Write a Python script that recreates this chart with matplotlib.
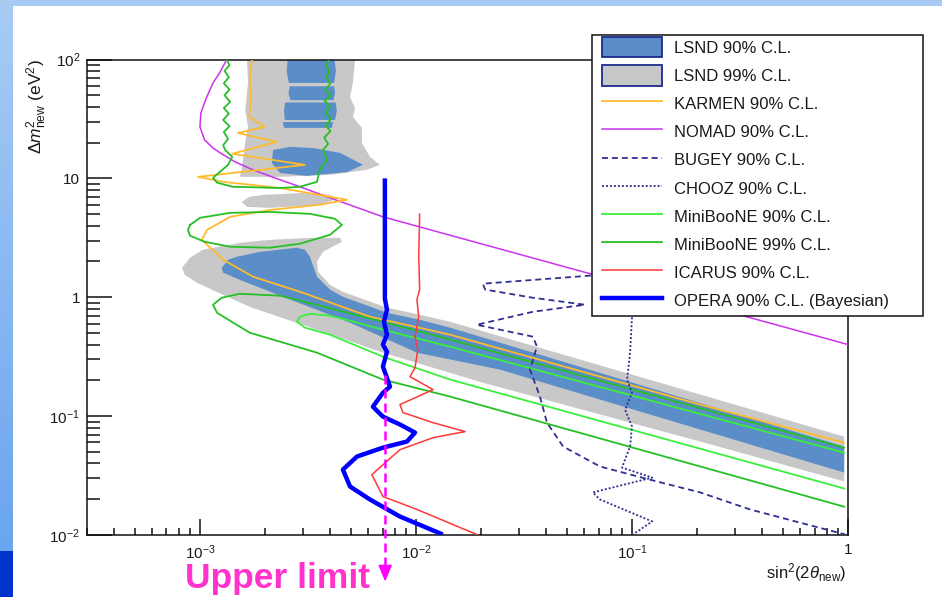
import numpy as np
import matplotlib
matplotlib.use("Agg")
import matplotlib.pyplot as plt
from matplotlib.patches import Patch, Rectangle
from matplotlib.lines import Line2D
from matplotlib.colors import LinearSegmentedColormap
from matplotlib.ticker import FixedLocator, NullFormatter

plt.rcParams["font.family"] = ["Liberation Sans", "DejaVu Sans"]
plt.rcParams["mathtext.fontset"] = "custom"
plt.rcParams["mathtext.rm"] = "Liberation Sans"
plt.rcParams["mathtext.it"] = "Liberation Sans:italic"
plt.rcParams["mathtext.bf"] = "Liberation Sans:bold"

# ---------------- exclusion / allowed regions (sin^2(2theta), dm^2 [eV^2]) ----------------
# LSND 99% C.L. allowed regions
lsnd99_top_x = [1.65e-3, 1.67e-3, 1.62e-3, 1.67e-3, 1.62e-3, 1.56e-3, 1.53e-3, 2.35e-3, 4.0e-3,
                5.93e-3, 6.81e-3, 6.12e-3, 5.62e-3, 5.62e-3, 5.11e-3, 5.22e-3, 4.95e-3, 5.11e-3, 5.22e-3]
lsnd99_top_y = [100, 63.5, 37.7, 27.1, 19.9, 11.8, 10.3, 10.3, 10.7,
                11.8, 13.0, 15.2, 19.9, 26.6, 32.9, 39.1, 48.4, 63.5, 100]
lsnd99_mid_x = [1.56e-3, 1.70e-3, 1.96e-3, 3.0e-3, 4.0e-3, 4.35e-3, 3.59e-3, 2.11e-3, 1.65e-3]
lsnd99_mid_y = [6.35, 7.0, 7.26, 7.55, 7.26, 6.73, 6.0, 5.65, 5.76]
lsnd99_band_x = [8.26e-4, 9.0e-4, 1.03e-3, 1.53e-3, 2.11e-3, 3.23e-3, 4.45e-3, 4.54e-3, 3.71e-3,
                 3.48e-3, 3.52e-3, 4.0e-3, 4.59e-3, 7.34e-3, 1.04e-2, 1.44e-2, 0.207, 0.96,
                 0.96, 0.207, 2.04e-2, 7.03e-3, 3.48e-3, 1.70e-3, 9.7e-4, 8.5e-4]
lsnd99_band_y = [1.77, 2.15, 2.51, 2.87, 3.04, 3.16, 3.16, 2.93, 2.41,
                 1.99, 1.64, 1.27, 1.11, 0.817, 0.713, 0.622, 0.152, 0.0673,
                 0.0282, 0.0611, 0.191, 0.342, 0.533, 0.83, 1.32, 1.55]

# LSND 90% C.L. allowed regions
lsnd90_top_a_x = [2.55e-3, 4.20e-3, 4.26e-3, 4.18e-3, 2.58e-3, 2.52e-3]
lsnd90_top_a_y = [100, 100, 80, 63.5, 63.5, 80]
lsnd90_top_b_x = [2.60e-3, 4.18e-3, 4.22e-3, 4.15e-3, 2.62e-3, 2.57e-3]
lsnd90_top_b_y = [59.5, 59.5, 52, 45.5, 45.5, 52]
lsnd90_top_c_x = [2.48e-3, 4.25e-3, 4.30e-3, 4.22e-3, 2.47e-3, 2.45e-3]
lsnd90_top_c_y = [43.5, 43.5, 37, 31.0, 31.0, 37]
lsnd90_top_d_x = [2.42e-3, 4.13e-3, 4.08e-3, 2.45e-3]
lsnd90_top_d_y = [29.8, 29.8, 26.6, 26.6]
lsnd90_mid_x = [2.18e-3, 2.61e-3, 3.33e-3, 4.45e-3, 5.69e-3, 4.80e-3, 3.13e-3, 2.35e-3, 2.15e-3]
lsnd90_mid_y = [17.3, 18.4, 18.0, 16.4, 13.0, 11.3, 10.5, 11.1, 13.5]
lsnd90_band_x = [1.26e-3, 1.35e-3, 1.48e-3, 1.90e-3, 2.81e-3, 3.06e-3, 3.23e-3, 3.48e-3, 4.0e-3,
                 4.59e-3, 7.34e-3, 1.04e-2, 1.44e-2, 0.96, 0.96, 2.45e-2, 1.01e-2, 4.95e-3,
                 2.42e-3, 1.53e-3, 1.28e-3]
lsnd90_band_y = [1.77, 2.07, 2.19, 2.41, 2.61, 2.51, 2.19, 1.49, 1.16,
                 1.01, 0.74, 0.647, 0.555, 0.0555, 0.0335, 0.246, 0.342, 0.611,
                 1.01, 1.40, 1.61]

# KARMEN 90% C.L.
karmen_x = [1.74e-3, 1.70e-3, 1.72e-3, 1.69e-3, 2.0e-3, 1.50e-3, 2.27e-3, 1.41e-3, 3.06e-3,
            9.8e-4, 1.28e-3, 2.35e-3, 4.80e-3, 3.59e-3, 2.11e-3, 1.38e-3, 1.08e-3, 1.02e-3,
            1.28e-3, 1.76e-3, 3.0e-3, 6.12e-3, 1.44e-2, 0.207, 0.96]
karmen_y = [100, 67.3, 45.7, 32.9, 27.1, 24.1, 20.3, 16.1, 13.0,
            10.3, 9.35, 8.3, 6.6, 6.0, 5.43, 4.75, 3.69, 3.04,
            2.07, 1.49, 1.09, 0.686, 0.484, 0.125, 0.0598]

# NOMAD 90% C.L.
nomad_x = [1.33e-3, 1.24e-3, 1.15e-3, 1.07e-3, 1.01e-3, 1.0e-3, 1.05e-3, 1.15e-3,
           1.24e-3, 1.45e-3, 1.76e-3, 2.22e-3, 2.75e-3, 4.0e-3, 7.03e-3, 1.0]
nomad_y = [100, 78.5, 63.5, 47.4, 35.5, 27.1, 21.1, 18.0,
           16.4, 13.8, 11.8, 10.1, 8.8, 6.86, 4.75, 0.40]

# BUGEY 90% C.L.
bugey_x = [0.109, 6.39e-2, 2.04e-2, 2.09e-2, 3.48e-2, 6.06e-2, 3.48e-2, 1.91e-2, 3.48e-2, 3.63e-2,
           3.37e-2, 3.75e-2, 4.04e-2, 4.80e-2, 7.11e-2, 0.121, 0.207, 0.352, 0.600, 0.97]
bugey_y = [1.70, 1.52, 1.30, 1.16, 0.99, 0.865, 0.755, 0.587, 0.466, 0.384,
           0.246, 0.146, 0.0881, 0.0555, 0.0377, 0.0292, 0.0228, 0.0164, 0.0127, 0.0101]

# CHOOZ 90% C.L.
chooz_x = [0.1, 0.1, 9.8e-2, 9.49e-2, 0.1, 9.29e-2, 0.1, 9.8e-2, 8.99e-2, 0.124,
           6.59e-2, 7.11e-2, 0.124, 0.101]
chooz_y = [2.51, 0.673, 0.342, 0.203, 0.157, 0.113, 0.0817, 0.0555, 0.0369, 0.0304,
           0.0228, 0.0199, 0.013, 0.0101]

# MiniBooNE 90% C.L.
mb90_x = [0.96, 1.44e-2, 7.03e-3, 4.95e-3, 4.0e-3, 3.23e-3, 2.90e-3, 2.81e-3,
          3.06e-3, 4.0e-3, 7.03e-3, 1.44e-2, 0.96]
mb90_y = [0.0493, 0.384, 0.533, 0.635, 0.70, 0.726, 0.686, 0.622,
          0.555, 0.484, 0.316, 0.203, 0.0246]

# MiniBooNE 99% C.L. (three pieces)
mb99_top_x = [1.33e-3, 1.37e-3, 1.30e-3, 1.36e-3, 1.29e-3, 1.37e-3, 1.30e-3, 1.38e-3,
              1.29e-3, 1.36e-3, 1.28e-3, 1.37e-3, 1.29e-3, 1.35e-3, 1.28e-3, 1.31e-3,
              1.41e-3, 1.35e-3, 1.15e-3, 1.20e-3, 1.42e-3, 2.35e-3, 2.90e-3, 3.48e-3,
              3.59e-3, 3.87e-3,
              3.71e-3, 3.92e-3, 3.76e-3, 4.02e-3, 3.80e-3, 4.05e-3, 3.82e-3, 4.00e-3,
              3.78e-3, 4.03e-3, 3.80e-3, 4.02e-3, 3.83e-3, 3.98e-3, 3.85e-3, 3.95e-3]
mb99_top_y = [100, 90, 80, 71, 63, 56, 50, 44,
              39, 35, 31, 27.5, 24.5, 21.5, 19, 17.3,
              15.2, 13.0, 10.1, 9.2, 8.5, 8.3, 8.5, 9.35,
              11.8, 14.3,
              17.3, 19.5, 22, 25, 28, 31.5, 35.5, 40,
              45, 50, 56, 63, 71, 80, 90, 100]
mb99_mid_x = [9.0e-4, 1.0e-3, 1.38e-3, 2.11e-3, 3.23e-3, 4.22e-3, 4.54e-3, 4.0e-3,
              2.90e-3, 2.11e-3, 1.38e-3, 1.05e-3, 9.0e-4, 8.8e-4, 9.0e-4]
mb99_mid_y = [4.06, 4.66, 5.13, 5.22, 5.03, 4.57, 4.06, 3.35,
              2.82, 2.61, 2.66, 2.93, 3.29, 3.69, 4.06]
mb99_low_x = [0.96, 1.44e-2, 7.03e-3, 3.59e-3, 2.35e-3, 1.53e-3, 1.26e-3, 1.15e-3,
              1.20e-3, 1.70e-3, 3.48e-3, 7.03e-3, 1.44e-2, 0.96]
mb99_low_y = [0.0543, 0.44, 0.622, 0.849, 1.03, 1.07, 0.99, 0.865,
              0.74, 0.503, 0.342, 0.203, 0.146, 0.0173]

# ICARUS 90% C.L.
icarus_x = [1.04e-2, 1.03e-2, 1.04e-2, 1.01e-2, 1.03e-2, 9.9e-3, 1.02e-2, 9.9e-3, 9.38e-3, 1.20e-2,
            8.43e-3, 8.71e-3, 1.20e-2, 1.69e-2, 1.20e-2, 8.43e-3, 6.25e-3, 7.03e-3, 1.01e-2, 1.91e-2]
icarus_y = [5.0, 2.2, 1.16, 0.953, 0.686, 0.466, 0.362, 0.256, 0.215, 0.167,
            0.125, 0.107, 0.0881, 0.0741, 0.0659, 0.0522, 0.0322, 0.0211, 0.0164, 0.0101]

# OPERA 90% C.L. (Bayesian)
opera_x = [7.18e-3, 7.18e-3, 7.34e-3, 7.11e-3, 7.34e-3, 7.03e-3, 7.34e-3, 7.03e-3, 7.34e-3,
           7.58e-3, 7.03e-3, 6.32e-3, 7.03e-3, 8.43e-3, 9.9e-3, 9.08e-3, 7.03e-3, 5.33e-3,
           4.59e-3, 4.95e-3, 6.12e-3, 8.43e-3, 1.33e-2]
opera_y = [10, 0.97, 0.785, 0.622, 0.484, 0.40, 0.348, 0.261, 0.210,
           0.177, 0.157, 0.120, 0.099, 0.085, 0.0727, 0.0611, 0.0543, 0.0457,
           0.0355, 0.0256, 0.0199, 0.0143, 0.0101]

# OPERA upper limit on sin^2(2theta) at large dm^2
upper_limit = 7.2e-3
upper_limit_span = [0.223, 0.00565, 0.00406]   # dashed line top, dashed line bottom, arrow tip

# axis ticks
x_major = [1e-3, 1e-2, 1e-1, 1.0]
x_labels = ["$10^{-3}$", "$10^{-2}$", "$10^{-1}$", "1"]
y_major = [1e-2, 1e-1, 1.0, 10.0, 100.0]
y_labels = ["$10^{-2}$", "$10^{-1}$", "1", "10", "$10^{2}$"]

legend_labels = ["LSND 90% C.L.", "LSND 99% C.L.", "KARMEN 90% C.L.", "NOMAD 90% C.L.",
                 "BUGEY 90% C.L.", "CHOOZ 90% C.L.", "MiniBooNE 90% C.L.",
                 "MiniBooNE 99% C.L.", "ICARUS 90% C.L.", "OPERA 90% C.L. (Bayesian)"]

# ---------------- styles ----------------
C_LSND90 = "#5b8ec8"
C_LSND99 = "#c8c8c8"
C_KARMEN = "#ffbb2e"
C_NOMAD = "#cc33ee"
C_NAVY = "#303090"
C_MB90 = "#3cee3c"
C_MB99 = "#26c026"
C_ICARUS = "#ff3838"
C_OPERA = "#0000ff"
C_ARROW = "#ff00ff"
C_TEXT = "#1a1a1a"

W, H = 942, 597
fig = plt.figure(figsize=(W / 100, H / 100), dpi=100, facecolor="white")

# slide background strips
bax = fig.add_axes([0, 46 / H, 13 / W, 1 - 46 / H])
bax.imshow(np.linspace(0, 1, 256).reshape(-1, 1), aspect="auto",
           cmap=LinearSegmentedColormap.from_list("slide", ["#a8ccf4", "#6aa5f0"]))
bax.set_axis_off()
fig.add_artist(Rectangle((0, 0), 13 / W, 46 / H, transform=fig.transFigure,
                         facecolor="#0033cc", edgecolor="none", zorder=1))
fig.add_artist(Rectangle((0, 1 - 6 / H), 1, 6 / H, transform=fig.transFigure,
                         facecolor="#a6caf2", edgecolor="none", zorder=1))

ax = fig.add_axes([87 / W, 1 - 535 / H, (848 - 87) / W, (535 - 59.5) / H])
ax.set_xscale("log")
ax.set_yscale("log")
ax.set_xlim(3e-4, 1.0)
ax.set_ylim(1e-2, 1e2)

# LSND regions
for xs, ys in [(lsnd99_top_x, lsnd99_top_y), (lsnd99_mid_x, lsnd99_mid_y),
               (lsnd99_band_x, lsnd99_band_y)]:
    ax.fill(xs, ys, color=C_LSND99, lw=0, zorder=1)
for xs, ys in [(lsnd90_top_a_x, lsnd90_top_a_y), (lsnd90_top_b_x, lsnd90_top_b_y),
               (lsnd90_top_c_x, lsnd90_top_c_y), (lsnd90_top_d_x, lsnd90_top_d_y),
               (lsnd90_mid_x, lsnd90_mid_y), (lsnd90_band_x, lsnd90_band_y)]:
    ax.fill(xs, ys, color=C_LSND90, lw=0, zorder=2)

lw = 1.3
ax.plot(nomad_x, nomad_y, color=C_NOMAD, lw=1.1, zorder=3)
ax.plot(karmen_x, karmen_y, color=C_KARMEN, lw=lw, zorder=3)
ax.plot(mb99_top_x, mb99_top_y, color=C_MB99, lw=lw, zorder=3)
ax.plot(mb99_mid_x, mb99_mid_y, color=C_MB99, lw=lw, zorder=3)
ax.plot(mb99_low_x, mb99_low_y, color=C_MB99, lw=lw, zorder=3)
ax.plot(mb90_x, mb90_y, color=C_MB90, lw=lw, zorder=3)
ax.plot(bugey_x, bugey_y, color=C_NAVY, lw=1.3, ls=(0, (3.3, 2.2)), zorder=3)
ax.plot(chooz_x, chooz_y, color=C_NAVY, lw=1.3, ls=(0, (1.1, 1.1)), zorder=3)
ax.plot(icarus_x, icarus_y, color=C_ICARUS, lw=1.1, zorder=4)
ax.plot(opera_x, opera_y, color=C_OPERA, lw=3.2, zorder=5, solid_capstyle="butt")

# upper limit marker
ax.plot([upper_limit, upper_limit], upper_limit_span[:2], color=C_ARROW, lw=1.8,
        ls=(0, (3.6, 2.0)), clip_on=False, zorder=6)
ax.annotate("", xy=(upper_limit, upper_limit_span[2]), xytext=(upper_limit, upper_limit_span[1]),
            arrowprops=dict(arrowstyle="-|>,head_length=1.0,head_width=0.42", color=C_ARROW,
                            lw=1.2, shrinkA=0, shrinkB=0),
            annotation_clip=False, zorder=6)
fig.text(185 / W, 1 - 588 / H, "Upper limit", fontsize=25.5, fontweight="bold",
         color="#ff33cc", ha="left", va="baseline")

# axes styling
for s in ax.spines.values():
    s.set_linewidth(1.1)
    s.set_color("#111111")
ax.xaxis.set_major_locator(FixedLocator(x_major))
ax.set_xticklabels(x_labels)
ax.yaxis.set_major_locator(FixedLocator(y_major))
ax.set_yticklabels(y_labels)
x_minor = [m * 10.0 ** e for e in range(-4, 0) for m in range(2, 10) if 3e-4 <= m * 10.0 ** e < 1]
y_minor = [m * 10.0 ** e for e in range(-2, 2) for m in range(2, 10)]
ax.xaxis.set_minor_locator(FixedLocator(x_minor))
ax.yaxis.set_minor_locator(FixedLocator(y_minor))
ax.xaxis.set_minor_formatter(NullFormatter())
ax.yaxis.set_minor_formatter(NullFormatter())
ax.tick_params(which="both", direction="in", top=False, right=False, width=1.1,
               color="#111111", labelcolor=C_TEXT, labelsize=11)
ax.tick_params(axis="x", which="major", length=11.5, pad=6)
ax.tick_params(axis="x", which="minor", length=5)
ax.tick_params(axis="y", which="major", length=18, pad=5)
ax.tick_params(axis="y", which="minor", length=9.5)

ax.set_xlabel(r"sin$^{2}$(2$\theta_{\mathrm{new}}$)", fontsize=12, color=C_TEXT, loc="right")
ax.xaxis.set_label_coords(0.9975, -0.055)
ax.set_ylabel(r"$\Delta m^{2}_{\mathrm{new}}$ (eV$^{2}$)", fontsize=12.5, color=C_TEXT, loc="top")
ax.yaxis.set_label_coords(-0.05, 1.0)

# legend box
fig.add_artist(Rectangle((592 / W, 1 - 316 / H), 331 / W, 281 / H, transform=fig.transFigure,
                         facecolor="white", edgecolor="#111111", lw=1.1, zorder=10))
handles = [
    Patch(facecolor=C_LSND90, edgecolor="#1c2a8c", lw=1.3),
    Patch(facecolor=C_LSND99, edgecolor="#1c2a8c", lw=1.3),
    Line2D([], [], color=C_KARMEN, lw=lw),
    Line2D([], [], color=C_NOMAD, lw=1.1),
    Line2D([], [], color=C_NAVY, lw=1.3, ls=(0, (3.3, 2.2))),
    Line2D([], [], color=C_NAVY, lw=1.3, ls=(0, (1.1, 1.1))),
    Line2D([], [], color=C_MB90, lw=lw),
    Line2D([], [], color=C_MB99, lw=lw),
    Line2D([], [], color=C_ICARUS, lw=1.1),
    Line2D([], [], color=C_OPERA, lw=3.2),
]
leg = fig.legend(handles, legend_labels, loc="upper left",
                 bbox_to_anchor=(602 / W, 1 - 37 / H), bbox_transform=fig.transFigure,
                 frameon=False, fontsize=12, borderpad=0, borderaxespad=0,
                 handlelength=3.6, handleheight=1.5, handletextpad=0.7, labelspacing=0.47,
                 labelcolor=C_TEXT)
leg.set_zorder(11)

fig.savefig("out.png", dpi=100, facecolor="white")
